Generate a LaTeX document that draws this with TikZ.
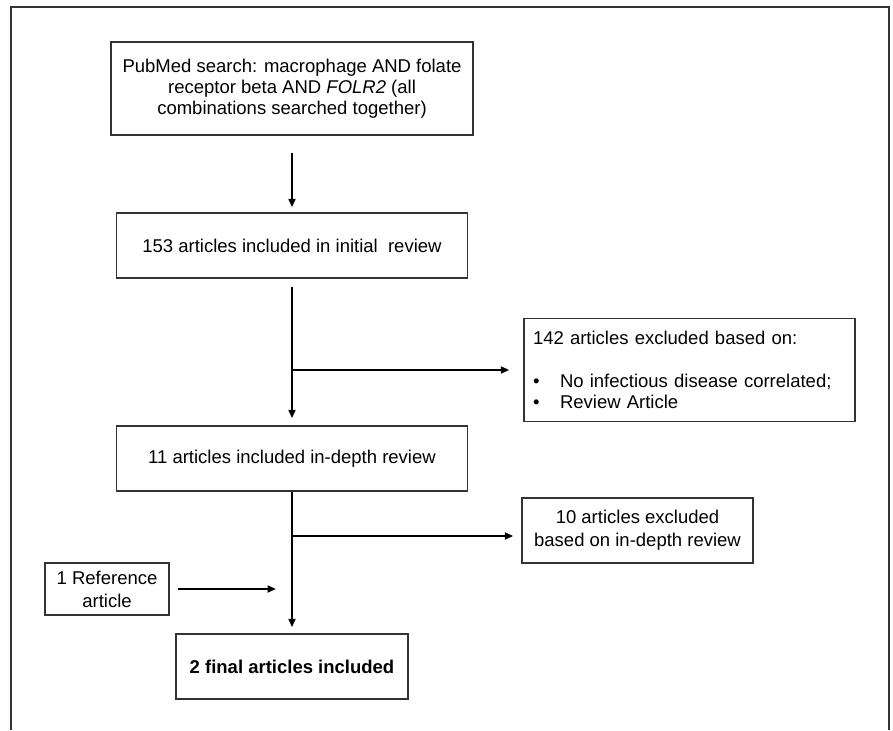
\documentclass[tikz,border=0pt]{standalone}
\usepackage{fontspec}
\setmainfont{Liberation Sans}
\usetikzlibrary{arrows.meta}

\definecolor{linegray}{HTML}{333333}
\tikzset{
  box/.style={draw=linegray, line width=1.5pt, align=center, inner sep=0pt},
  arr/.style={line width=2pt, -{Triangle[length=8.5pt,width=7pt]}},
}

\begin{document}
\begin{tikzpicture}[x=1pt, y=-1pt, font=\fontsize{18.5}{21}\selectfont]
\useasboundingbox (0,0) rectangle (893,730);
\draw[linegray, line width=2pt] (11,730) -- (11,7) -- (889,7) -- (889,730);

\node[box, minimum width=362pt, minimum height=93pt] (search) at (292,88.5)
  {PubMed search: macrophage AND folate\\receptor beta AND \textit{FOLR2} (all\\combinations searched together)};
\node[box, minimum width=351pt, minimum height=65pt] (initial) at (292,245.5)
  {153 articles included in initial\ \ review};
\node[box, text width=313pt, align=left, inner xsep=9pt, minimum height=103pt] (excl) at (689.5,370)
  {142 articles excluded based on:\\[22pt]\makebox[27pt][l]{\textbullet}No infectious disease correlated;\\\makebox[27pt][l]{\textbullet}Review Article};
\node[box, minimum width=351pt, minimum height=65pt] (indepth) at (292,458.5)
  {11 articles included in-depth review};
\node[box, minimum width=231pt, minimum height=65pt] (exclrev) at (637.5,530.5)
  {10 articles excluded\\[2pt]based on in-depth review};
\node[box, minimum width=124pt, minimum height=52pt] (ref) at (107,589)
  {1 Reference\\[2pt]article};
\node[box, minimum width=232pt, minimum height=65pt] (final) at (292,666.5)
  {\textbf{2 final articles included}};

\coordinate (split1) at (initial.south |- excl.west);
\coordinate (split2) at (292,536);

\path[]
(search.south) edge[arr, shorten <=17pt, shorten >=5pt] (initial.north)
(initial.south) edge[arr, shorten <=8pt, shorten >=7pt] (indepth.north)
(split1) edge[arr, shorten >=14pt] (excl.west)
(indepth.south) edge[arr, shorten >=6pt] (final.north)
(split2) edge[arr, shorten >=8pt] (split2 -| exclrev.west)
(ref.east) edge[arr, shorten <=8pt, shorten >=16pt] (ref.east -| final.north)
;
\end{tikzpicture}
\end{document}
